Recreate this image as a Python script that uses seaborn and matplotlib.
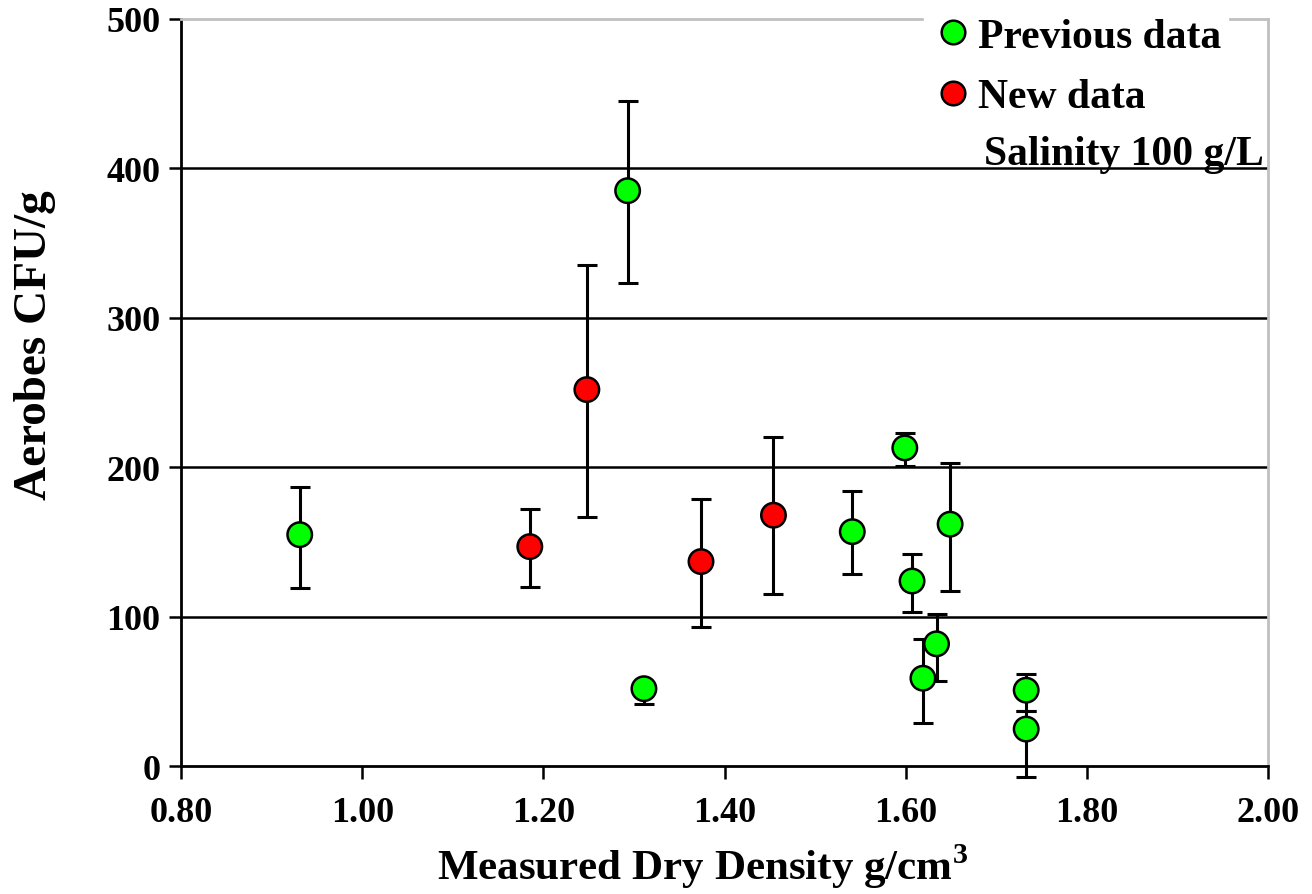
import pandas as pd
import matplotlib
matplotlib.use("Agg")
import matplotlib.pyplot as plt
import seaborn as sns
from matplotlib.lines import Line2D

# Data
prev_density = [0.931, 1.293, 1.311, 1.541, 1.599, 1.607, 1.619, 1.634, 1.649, 1.733, 1.733]
prev_cfu = [155, 385, 52, 157, 213, 124, 59, 82, 162, 51, 25]
prev_low = [119, 323, 42, 129, 201, 103, 29, 57, 117, 37, -7]
prev_high = [187, 445, 56, 184, 223, 142, 85, 102, 203, 62, 37]

new_density = [1.185, 1.248, 1.374, 1.454]
new_cfu = [147, 252, 137, 168]
new_low = [120, 167, 93, 115]
new_high = [172, 335, 179, 220]

groups = ["Previous data", "New data"]
colors = ["#00ff00", "#ff0000"]

df = pd.concat([
    pd.DataFrame({"density": prev_density, "cfu": prev_cfu, "low": prev_low,
                  "high": prev_high, "group": groups[0]}),
    pd.DataFrame({"density": new_density, "cfu": new_cfu, "low": new_low,
                  "high": new_high, "group": groups[1]}),
], ignore_index=True)

sns.set_theme(style="white")
plt.rcParams["font.family"] = ["Liberation Serif", "DejaVu Serif"]
plt.rcParams["font.weight"] = "bold"
plt.rcParams["text.color"] = "black"
plt.rcParams["axes.labelcolor"] = "black"
plt.rcParams["xtick.color"] = "black"
plt.rcParams["ytick.color"] = "black"
plt.rcParams["mathtext.fontset"] = "custom"
plt.rcParams["mathtext.bf"] = "Liberation Serif:bold"
plt.rcParams["mathtext.rm"] = "Liberation Serif:bold"

fig = plt.figure(figsize=(13.12, 8.95), dpi=100)
ax = fig.add_axes([0.138, 0.1425, 0.8285, 0.8355])

# grid lines
for v in [100, 200, 300, 400]:
    ax.axhline(v, color="black", lw=1.8, zorder=0)

# error bars
ax.errorbar(df["density"], df["cfu"],
            yerr=[df["cfu"] - df["low"], df["high"] - df["cfu"]],
            fmt="none", ecolor="black", elinewidth=2.2, capsize=7, capthick=2.2,
            zorder=2, clip_on=False)

sns.scatterplot(data=df, x="density", y="cfu", hue="group", palette=colors,
                hue_order=groups, s=310, edgecolor="black", linewidth=1.8,
                zorder=3, ax=ax, legend=False, clip_on=False)

ax.set_xlim(0.8, 2.0)
ax.set_ylim(0, 500)
ax.set_xticks([0.8, 1.0, 1.2, 1.4, 1.6, 1.8, 2.0])
ax.set_xticklabels([f"{t:.2f}" for t in [0.8, 1.0, 1.2, 1.4, 1.6, 1.8, 2.0]])
ax.set_yticks([0, 100, 200, 300, 400, 500])
ax.tick_params(axis="both", direction="out", length=9, width=1.8, labelsize=26,
               left=True, bottom=True, colors="black")
ax.tick_params(axis="x", pad=12)
ax.tick_params(axis="y", pad=6)
for lab in ax.get_xticklabels() + ax.get_yticklabels():
    lab.set_fontweight("bold")

for side in ["left", "bottom"]:
    ax.spines[side].set_color("black")
    ax.spines[side].set_linewidth(2)
for side in ["right", "top"]:
    ax.spines[side].set_color("#c0c0c0")
    ax.spines[side].set_linewidth(2)

ax.set_xlabel("Measured Dry Density g/cm$^\\mathbf{3}$", fontsize=31, fontweight="bold")
ax.set_ylabel("Aerobes CFU/g", fontsize=34, fontweight="bold")
ax.xaxis.set_label_coords(0.48, -0.1)
ax.yaxis.set_label_coords(-0.115, 0.565)

handles = [Line2D([], [], marker="o", ls="", markersize=17, markerfacecolor=c,
                  markeredgecolor="black", markeredgewidth=1.8) for c in colors]
leg = ax.legend(handles, groups, loc="upper right", bbox_to_anchor=(0.982, 1.038),
                fontsize=30, frameon=True, facecolor="white", edgecolor="white",
                framealpha=1, handletextpad=0.05, borderpad=0.15, labelspacing=0.54,
                handlelength=1.1)
leg.set_zorder(5)
for t in leg.get_texts():
    t.set_fontweight("bold")

ax.text(1.995, 403, "Salinity 100 g/L", ha="right", va="baseline",
        fontsize=30, fontweight="bold", zorder=6)

fig.savefig("out.png", dpi=100, facecolor="white")
